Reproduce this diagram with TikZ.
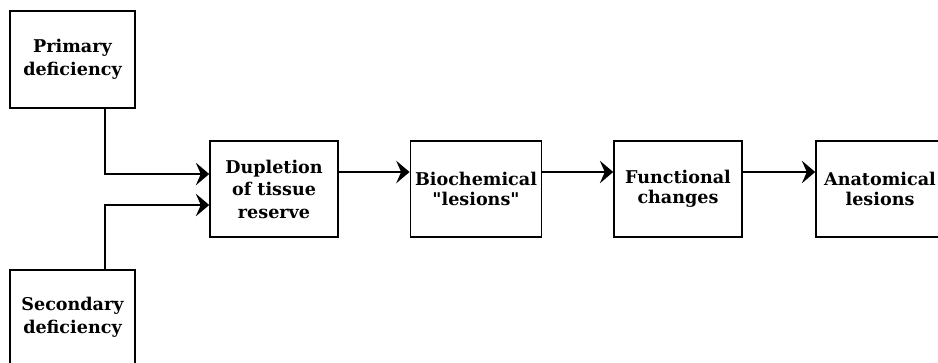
\documentclass[tikz,border=0pt]{standalone}
\usepackage{fontspec}
\setmainfont{DejaVu Serif}
\usetikzlibrary{arrows.meta,positioning}
\tikzstyle{stage} = [rectangle, minimum width=3.2cm, minimum height=2.4cm, align=center, draw=black, line width=1.1pt, font=\bfseries\fontsize{12.5}{14.5}\selectfont]
\tikzstyle{cause} = [rectangle, minimum width=3.125cm, minimum height=2.425cm, align=center, draw=black, line width=1.1pt, font=\bfseries\fontsize{12.5}{16.5}\selectfont]
\tikzset{arrow/.style={line width=1.1pt, -{Stealth[length=9.5pt, width=16pt, inset=3.5pt]}}}
\begin{document}
\begin{tikzpicture}[node distance=5.05cm]
    \useasboundingbox (0,0) rectangle (23.45,-9.05);
    \node (primary) [cause] at (1.8125,-1.4875) {Primary\\deficiency};
    \node (secondary) [cause, minimum height=2.35cm] at (1.8125,-7.925) {Secondary\\deficiency};
    \node (tissueReserve) [stage, font=\bfseries\fontsize{12.5}{16}\selectfont] at (6.85,-4.725)
        {Dupletion\\of tissue\\reserve};
    \node (biochemical) [stage, right of=tissueReserve] {Biochemical\\\textquotedbl lesions\textquotedbl};
    \node (functional) [stage, right of=biochemical] {Functional\\changes};
    \node (anatomical) [stage, right of=functional] {Anatomical\\lesions};
    \draw [arrow] ([xshift=0.8125cm]primary.south) |- ([yshift=0.375cm]tissueReserve.west);
    \draw [arrow] ([xshift=0.8125cm]secondary.north) |- ([yshift=-0.4cm]tissueReserve.west);
    \draw [arrow] ([yshift=0.425cm]tissueReserve.east) -- ([yshift=0.425cm]biochemical.west);
    \draw [arrow] ([yshift=0.425cm]biochemical.east) -- ([yshift=0.425cm]functional.west);
    \draw [arrow] ([yshift=0.425cm]functional.east) -- ([yshift=0.425cm]anatomical.west);
\end{tikzpicture}
\end{document}
